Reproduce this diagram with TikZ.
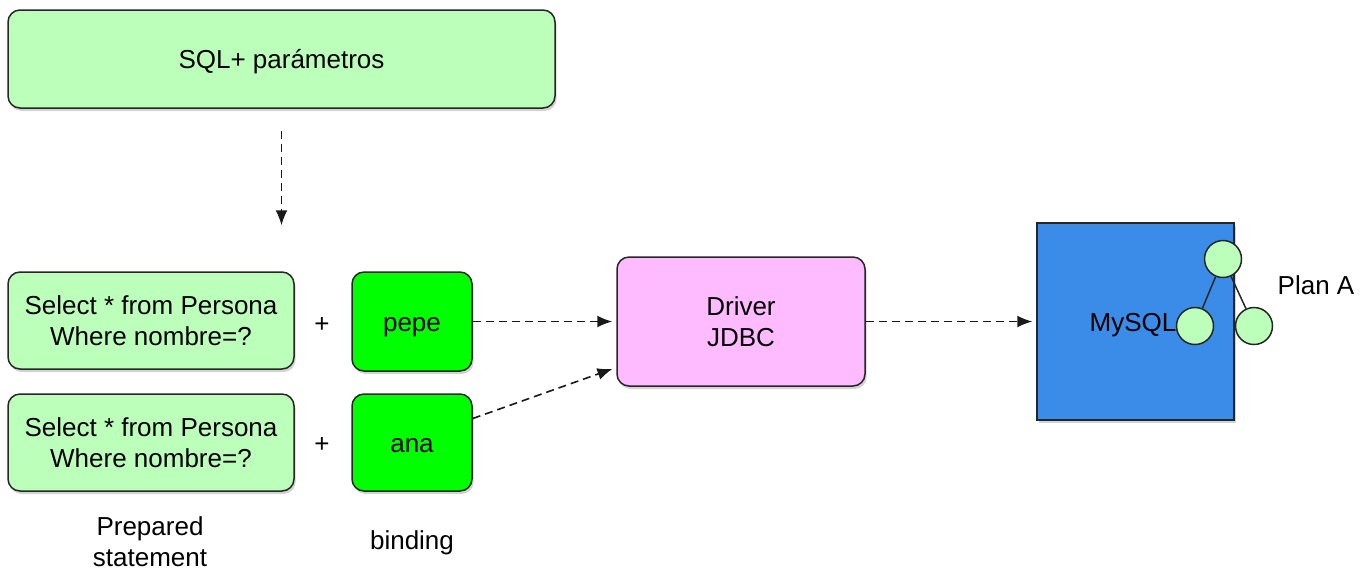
\documentclass[tikz,border=0pt]{standalone}
\usepackage{fontspec}
\setmainfont{Liberation Sans}
\usetikzlibrary{shadows,arrows.meta}
\definecolor{lgreen}{HTML}{BBFFBB}
\definecolor{bgreen}{HTML}{00FF00}
\definecolor{lpink}{HTML}{FFBBFF}
\definecolor{mblue}{HTML}{3A8CE8}
\tikzset{
  box/.style={draw=black!85, line width=0.75pt, rounded corners=6pt, align=center,
    font=\fontsize{13}{15.5}\selectfont, inner sep=0pt,
    drop shadow={shadow xshift=0.8pt, shadow yshift=-1.5pt, opacity=0.35}},
  oneline/.style={text height=9.8pt, text depth=0pt},
  sqlbox/.style={box, fill=lgreen},
  valbox/.style={box, fill=bgreen, minimum width=60pt, oneline},
  dasharrow/.style={draw=black!90, line width=0.8pt, dash pattern=on 4pt off 2.5pt,
    -{Latex[length=7.5pt,width=6pt]}},
  lbl/.style={font=\fontsize{13}{15.5}\selectfont, align=center, inner sep=0pt},
  leaf/.style={circle, draw=black!85, line width=0.75pt, fill=lgreen, minimum size=18.5pt, inner sep=0pt}
}
\begin{document}
\begin{tikzpicture}[x=0.5pt, y=-0.5pt]
\useasboundingbox (0,0) rectangle (1372,570);
\node[sqlbox, oneline, minimum width=273.5pt, minimum height=49pt] (top) at (281.5,59) {SQL+ parámetros};
\node[sqlbox, minimum width=143pt, minimum height=48.5pt] (prep1) at (151,320.5) {Select * from Persona\\Where nombre=?};
\node[sqlbox, minimum width=143pt, minimum height=48.5pt] (prep2) at (151,442.5) {Select * from Persona\\Where nombre=?};
\node[lbl] (plus1) at (322,325) {+};
\node[lbl] (plus2) at (322,445) {+};
\node[valbox, minimum height=49.5pt] (pepe) at (412,321.5) {pepe};
\node[valbox, minimum height=48.5pt] (ana) at (412,442.5) {ana};
\node[lbl] (prepared) at (150,542) {Prepared\\statement};
\node[lbl, oneline] (binding) at (412,540) {binding};
\node[box, fill=lpink, minimum width=124pt, minimum height=64.5pt] (driver) at (741,321.5) {Driver\\JDBC};
\node[draw=black!85, line width=0.75pt, fill=mblue, minimum width=98.5pt, minimum height=98.5pt, inner sep=0pt,
  drop shadow={shadow xshift=0.8pt, shadow yshift=-1.5pt, opacity=0.35}] (mysql) at (1135.5,321.5) {};
\node[lbl, oneline] (mysqltxt) at (1133,322) {MySQL};
\node[leaf] (c1) at (1223,259) {};
\node[leaf] (c2) at (1195,326) {};
\node[leaf] (c3) at (1254,326) {};
\draw[line width=0.75pt, black!85] (c1) -- (c2);
\draw[line width=0.75pt, black!85] (c1) -- (c3);
\node[lbl, oneline] (plan) at (1316,285) {Plan A};
\draw[dasharrow, shorten <=11pt, shorten >=23pt] (top.south) -- (top.south |- prep1.north);
\draw[dasharrow, shorten >=2pt] (pepe.east) -- (driver.west);
\draw[dasharrow, shorten >=2pt] ([yshift=12pt]ana.east) -- ([yshift=-23pt]driver.west);
\draw[dasharrow, shorten >=2pt] (driver.east) -- (driver.east -| mysql.west);
\end{tikzpicture}
\end{document}
